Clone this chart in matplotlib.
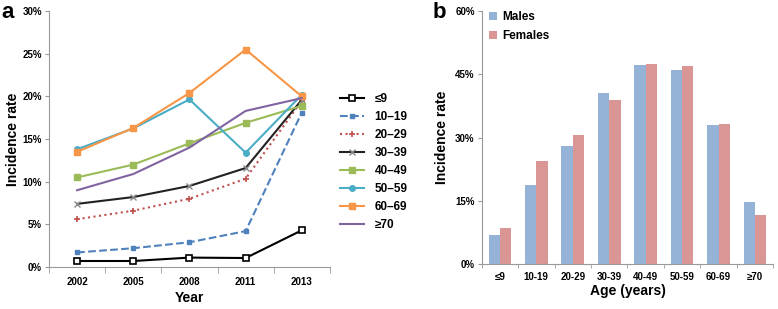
import matplotlib.pyplot as plt
import numpy as np

plt.rcParams['font.family'] = ['Liberation Sans', 'DejaVu Sans']

# Panel a: incidence rate by year and age group
years = ["2002", "2005", "2008", "2011", "2013"]
groups = ["≤9", "10–19", "20–29", "30–39", "40–49", "50–59", "60–69", "≥70"]
rate_le9 = [0.7, 0.7, 1.1, 1.05, 4.3]
rate_10_19 = [1.7, 2.2, 2.9, 4.2, 18.1]
rate_20_29 = [5.6, 6.6, 8.0, 10.35, 19.5]
rate_30_39 = [7.4, 8.2, 9.5, 11.6, 19.6]
rate_40_49 = [10.5, 12.0, 14.5, 16.9, 18.9]
rate_50_59 = [13.8, 16.25, 19.65, 13.4, 20.2]
rate_60_69 = [13.5, 16.3, 20.4, 25.5, 20.0]
rate_ge70 = [9.0, 10.9, 14.0, 18.3, 19.8]

# Panel b: incidence rate by age and sex
ages = ["≤9", "10-19", "20-29", "30-39", "40-49", "50-59", "60-69", "≥70"]
males = [6.9, 18.65, 28.1, 40.6, 47.1, 46.0, 32.9, 14.8]
females = [8.4, 24.5, 30.6, 38.9, 47.5, 46.9, 33.1, 11.7]

fig = plt.figure(figsize=(7.78, 3.09), dpi=100)
ax1 = fig.add_axes([0.063, 0.136, 0.361, 0.828])
ax2 = fig.add_axes([0.619, 0.146, 0.375, 0.818])

series = [rate_le9, rate_10_19, rate_20_29, rate_30_39,
          rate_40_49, rate_50_59, rate_60_69, rate_ge70]
styles = [
    dict(color="black", ls="-", marker="s", mfc="white", mec="black", ms=4, mew=1.2),
    dict(color="#4F81BD", ls="--", marker="s", ms=3),
    dict(color="#C0504D", ls=":", marker="+", ms=4, mew=1.2),
    dict(color="#222222", ls="-", marker="x", ms=4, mec="#888888"),
    dict(color="#9BBB59", ls="-", marker="s", ms=4),
    dict(color="#4BACC6", ls="-", marker="o", ms=4),
    dict(color="#F79646", ls="-", marker="s", ms=4),
    dict(color="#8064A2", ls="-", marker=None),
]
x = np.arange(len(years))
for vals, lab, st in zip(series, groups, styles):
    ax1.plot(x, vals, lw=1.5, label=lab, **st)


def style_axis(ax, xpad):
    ax.tick_params(axis="x", which="major", length=0, pad=xpad)
    ax.tick_params(axis="x", which="minor", length=4, color="#999999")
    ax.tick_params(axis="y", length=3, color="#999999", pad=2)
    ax.tick_params(labelsize=7)
    for t in ax.get_xticklabels() + ax.get_yticklabels():
        t.set_fontweight("bold")
    for s in ["top", "right"]:
        ax.spines[s].set_visible(False)
    for s in ["left", "bottom"]:
        ax.spines[s].set_color("#999999")


ax1.set_xlim(-0.5, len(years) - 0.5)
ax1.set_ylim(0, 30)
ax1.set_yticks(np.arange(0, 31, 5))
ax1.set_yticklabels([f"{v}%" for v in range(0, 31, 5)])
ax1.set_xticks(x)
ax1.set_xticklabels(years)
ax1.set_xticks(np.arange(-0.5, len(years)), minor=True)
style_axis(ax1, 7)
ax1.set_xlabel("Year", fontsize=10, fontweight="bold")
ax1.set_ylabel("Incidence rate", fontsize=10, fontweight="bold")
ax1.xaxis.set_label_coords(0.5, -0.095)
ax1.yaxis.set_label_coords(-0.105, 0.5)
leg = ax1.legend(loc="center left", bbox_to_anchor=(1.02, 0.41), frameon=False,
                 handlelength=2.0, fontsize=8.5, labelspacing=0.5,
                 borderaxespad=0, handletextpad=0.9)
for t in leg.get_texts():
    t.set_fontweight("bold")

# bar chart
xb = np.arange(len(ages))
w = 0.31
ax2.bar(xb - w / 2, males, w, color="#95B3D7", label="Males")
ax2.bar(xb + w / 2, females, w, color="#D99694", label="Females")
ax2.set_xlim(-0.5, len(ages) - 0.5)
ax2.set_ylim(0, 60)
ax2.set_yticks(np.arange(0, 61, 15))
ax2.set_yticklabels([f"{v}%" for v in range(0, 61, 15)])
ax2.set_xticks(xb)
ax2.set_xticklabels(ages)
ax2.set_xticks(np.arange(-0.5, len(ages)), minor=True)
style_axis(ax2, 6)
ax2.tick_params(axis="x", which="minor", length=3)
ax2.set_xlabel("Age (years)", fontsize=10, fontweight="bold")
ax2.set_ylabel("Incidence rate", fontsize=10, fontweight="bold")
ax2.xaxis.set_label_coords(0.5, -0.08)
ax2.yaxis.set_label_coords(-0.11, 0.5)
leg2 = ax2.legend(loc="upper left", bbox_to_anchor=(0.01, 1.02), frameon=False,
                  handlelength=0.7, handleheight=0.7, fontsize=8.5,
                  labelspacing=0.6, handletextpad=0.4, borderaxespad=0)
for t in leg2.get_texts():
    t.set_fontweight("bold")

fig.text(0.002, 0.995, "a", fontsize=16, fontweight="bold", va="top")
fig.text(0.556, 0.995, "b", fontsize=16, fontweight="bold", va="top")

fig.savefig("out.png", dpi=100)
